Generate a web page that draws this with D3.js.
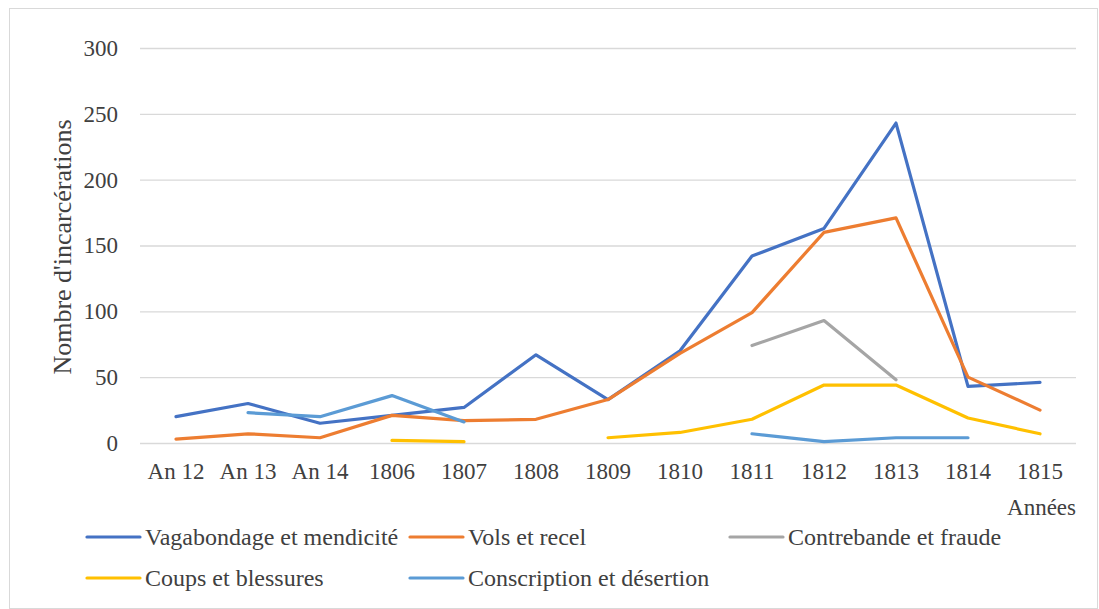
<!DOCTYPE html>
<html><head><meta charset="utf-8">
<script src="https://cdn.jsdelivr.net/npm/d3@7"></script>
<style>body{margin:0;background:#fff}svg{display:block}</style>
</head><body><svg id="c" width="1099" height="609"></svg>
<script>
const categories = ["An 12","An 13","An 14","1806","1807","1808","1809","1810","1811","1812","1813","1814","1815"];
const vagabondage = [20,30,15,21,27,67,33,70,142,163,243,43,46];
const vols = [3,7,4,21,17,18,33,68,99,160,171,50,25];
const contrebande = [null,null,null,null,null,null,null,null,74,93,48,null,null];
const coups = [null,null,null,2,1,null,4,8,18,44,44,19,7];
const conscription = [null,23,20,36,16,null,null,null,7,1,4,4,null];
const seriesNames = ["Vagabondage et mendicité","Vols et recel","Contrebande et fraude","Coups et blessures","Conscription et désertion"];
const colors = ["#4472C4","#ED7D31","#A5A5A5","#FFC000","#5B9BD5"];
const yTicks = [0,50,100,150,200,250,300];

const FONT = '"Liberation Serif"';
const TXT = "#404040";
const seriesVals = [vagabondage, vols, contrebande, coups, conscription];
const svg = d3.select("#c");
svg.append("rect").attr("x",9.5).attr("y",8.5).attr("width",1088).attr("height",600).attr("fill","none").attr("stroke","#d9d9d9");

const pLeft=140, pRight=1076, pTop=48, pBottom=443;
const x = d3.scaleBand().domain(categories).range([pLeft,pRight]);
const y = d3.scaleLinear().domain([0,300]).range([pBottom,pTop]);

const gy = svg.append("g").attr("transform",`translate(${pLeft},0)`)
  .call(d3.axisLeft(y).tickValues(yTicks).tickSize(-(pRight-pLeft)).tickPadding(22));
gy.attr("font-family",null).attr("font-size",null);
gy.select(".domain").remove();
gy.selectAll("line").attr("stroke","#d9d9d9").attr("stroke-width",1.3);
gy.selectAll("text").style("font-family",FONT).style("font-size","23px").attr("fill",TXT);

const gx = svg.append("g").attr("transform",`translate(0,${pBottom})`)
  .call(d3.axisBottom(x).tickSize(0).tickPadding(20));
gx.attr("font-family",null).attr("font-size",null);
gx.select(".domain").remove();
gx.selectAll("text").style("font-family",FONT).style("font-size","23px").attr("fill",TXT);

const line = d3.line().defined(d=>d!=null).x((d,i)=>x(categories[i])+x.bandwidth()/2).y(d=>y(d));
seriesVals.forEach((vals,k)=>{
  svg.append("path").datum(vals).attr("d",line).attr("fill","none")
    .attr("stroke",colors[k]).attr("stroke-width",3.2).attr("stroke-linejoin","round").attr("stroke-linecap","round");
});

svg.append("text").attr("transform","translate(71,247) rotate(-90)").attr("text-anchor","middle")
  .style("font-family",FONT).style("font-size","26px").attr("fill",TXT).text("Nombre d'incarcérations");
svg.append("text").attr("x",1076).attr("y",515).attr("text-anchor","end")
  .style("font-family",FONT).style("font-size","23px").attr("fill",TXT).text("Années");

const legendPos = [[87,537],[410,537],[730,537],[87,578],[410,578]];
seriesNames.forEach((n,k)=>{
  const [lx,ly]=legendPos[k];
  svg.append("line").attr("x1",lx).attr("x2",lx+53).attr("y1",ly).attr("y2",ly)
    .attr("stroke",colors[k]).attr("stroke-width",3.2).attr("stroke-linecap","round");
  svg.append("text").attr("x",lx+58).attr("y",ly+8)
    .style("font-family",FONT).style("font-size","24px").attr("fill",TXT).text(n);
});
</script></body></html>
